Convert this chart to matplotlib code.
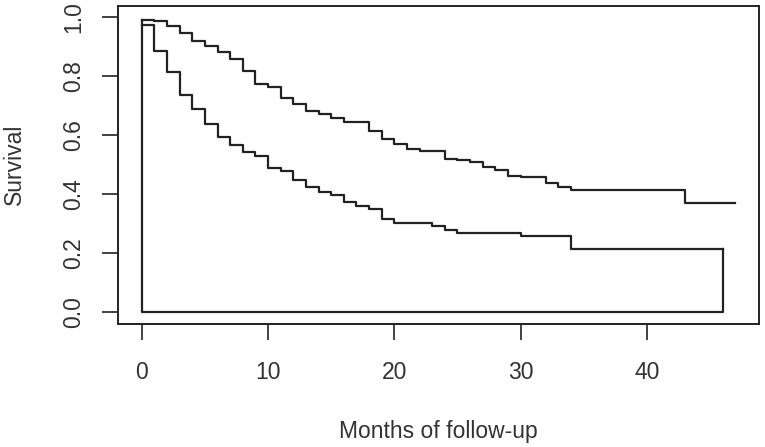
import numpy as np
import matplotlib.pyplot as plt

plt.rcParams['font.family'] = ['Liberation Sans', 'DejaVu Sans']

# Curva superior
upper_times = [0, 1, 2, 3, 4, 5, 6, 7, 8, 9, 10, 11, 12, 13, 14, 15, 16, 18, 19, 20,
               21, 22, 24, 25, 26, 27, 28, 29, 30, 32, 33, 34, 43]
upper_surv = [0.990, 0.986, 0.971, 0.946, 0.918, 0.901, 0.882, 0.860, 0.817, 0.775,
              0.764, 0.727, 0.707, 0.681, 0.673, 0.659, 0.644, 0.616, 0.589, 0.569,
              0.552, 0.548, 0.521, 0.515, 0.510, 0.493, 0.482, 0.461, 0.458, 0.437,
              0.425, 0.416, 0.369]
upper_end = 47

# Curva inferior
lower_times = [0, 1, 2, 3, 4, 5, 6, 7, 8, 9, 10, 11, 12, 13, 14, 15, 16, 17, 18, 19,
               20, 23, 24, 25, 30, 34]
lower_surv = [0.975, 0.887, 0.813, 0.738, 0.690, 0.638, 0.593, 0.566, 0.542, 0.529,
              0.490, 0.478, 0.448, 0.425, 0.407, 0.396, 0.375, 0.360, 0.349, 0.315,
              0.303, 0.292, 0.279, 0.270, 0.258, 0.216]
lower_end = 46

col = '#222222'
fs = 16.5

fig = plt.figure(figsize=(7.65, 4.47), dpi=100)
ax = fig.add_axes([118/765, 1 - 324/447, 641/765, 318.5/447])

ax.step(np.r_[upper_times, upper_end], np.r_[upper_surv, upper_surv[-1]],
        where='post', color=col, lw=1.6)
ax.step(np.r_[lower_times, lower_end], np.r_[lower_surv, lower_surv[-1]],
        where='post', color=col, lw=1.6)
# cierre del area inferior
ax.plot([lower_end, lower_end, 0, 0], [lower_surv[-1], 0, 0, upper_surv[0]],
        color=col, lw=1.6)

ax.set_xlim(-0.04*upper_end, 1.04*upper_end)
ax.set_ylim(-0.04, 1.04)
ax.set_xticks([0, 10, 20, 30, 40])
ax.set_yticks([0.0, 0.2, 0.4, 0.6, 0.8, 1.0])
ax.set_yticklabels(['0.0', '0.2', '0.4', '0.6', '0.8', '1.0'], rotation=90, va='center')
ax.tick_params(length=11.5, width=1.2, color=col, labelcolor='#333333', labelsize=fs)
ax.tick_params(axis='x', pad=15)
ax.tick_params(axis='y', pad=12)

for s in ax.spines.values():
    s.set_linewidth(1.4)
    s.set_color(col)

ax.text(0.5, -0.358, "Months of follow-up", transform=ax.transAxes,
        ha='center', va='baseline', fontsize=fs, color='#333333')
ax.text(-0.161, 0.5, "Survival", transform=ax.transAxes, rotation=90,
        ha='center', va='center', fontsize=fs, color='#333333')

fig.savefig('out.png', dpi=100)
